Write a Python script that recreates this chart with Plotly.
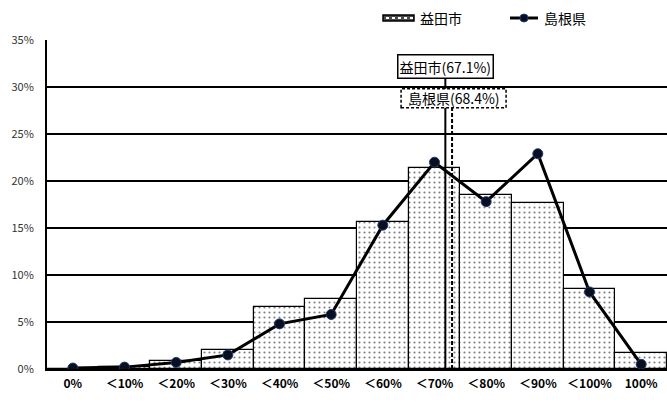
import plotly.graph_objects as go

# Distribution bins and shares (%)
categories = ["0%", "＜10%", "＜20%", "＜30%", "＜40%", "＜50%",
              "＜60%", "＜70%", "＜80%", "＜90%", "＜100%", "100%"]
masuda = [0.0, 0.2, 0.85, 2.0, 6.6, 7.4, 15.6, 21.4, 18.5, 17.7, 8.5, 1.7]
shimane = [0.1, 0.2, 0.7, 1.5, 4.8, 5.8, 15.3, 22.0, 17.8, 22.9, 8.2, 0.5]

# Average rates shown as vertical reference lines
masuda_avg = 67.1
shimane_avg = 68.4
masuda_name = "益田市"
shimane_name = "島根県"

y_ticks = [0, 5, 10, 15, 20, 25, 30, 35]

FONT = "Noto Sans CJK JP"
xs = list(range(len(categories)))

# plot-area geometry in pixels (used for the hand-built legend and boxes)
W, H = 667, 403
ML, MR, MT, MB = 47, 0, 40, 34
PW, PH = W - ML - MR, H - MT - MB
X_RANGE = [-0.5, len(categories) - 0.5]
Y_RANGE = [0, 35]
PX_PER_X = PW / (X_RANGE[1] - X_RANGE[0])
PX_PER_Y = PH / (Y_RANGE[1] - Y_RANGE[0])


def px_x(p):
    return (p - ML) / PW


def px_y(p):
    return (H - MB - p) / PH


def rate_to_x(rate):
    # bin "<70%" (index 7) covers 60–70 %, spanning x = 6.5 .. 7.5
    return 0.5 + rate / 10.0


fig = go.Figure()

fig.add_trace(go.Bar(
    x=xs, y=masuda, name=masuda_name, width=1.0, showlegend=False,
    marker=dict(color="white", line=dict(color="black", width=1.2),
                pattern=dict(shape=".", fgcolor="black", bgcolor="white",
                             size=5, solidity=0.15)),
))

fig.add_trace(go.Scatter(
    x=xs, y=shimane, name=shimane_name, mode="lines+markers", showlegend=False,
    line=dict(color="black", width=3),
    marker=dict(color="#0a0f1e", size=10, line=dict(color="#1f3b7a", width=1)),
))

mx = rate_to_x(masuda_avg)
sx = rate_to_x(shimane_avg)
m_top = 30.9
s_top = 27.8

fig.add_shape(type="line", x0=mx, x1=mx, y0=0, y1=m_top, xref="x", yref="y",
              line=dict(color="black", width=2))
fig.add_shape(type="line", x0=sx, x1=sx, y0=0, y1=s_top, xref="x", yref="y",
              line=dict(color="black", width=2, dash="4px,2px"))

# dashed label box for the prefecture average (sized in pixels, placed in data units)
fig.add_shape(type="rect", xref="x", yref="y",
              x0=sx - 51 / PX_PER_X, x1=sx + 54 / PX_PER_X,
              y0=s_top, y1=s_top + 19 / PX_PER_Y,
              line=dict(color="black", width=1.5, dash="3px,2px"),
              fillcolor="white", layer="above")

fig.add_annotation(x=mx, y=m_top, xref="x", yref="y",
                   text=f"{masuda_name}({masuda_avg}%)",
                   showarrow=False, yanchor="bottom", xanchor="center",
                   font=dict(family=FONT, size=14, color="black"),
                   bgcolor="white", bordercolor="black", borderwidth=1.5,
                   borderpad=1)
fig.add_annotation(x=sx + 1.5 / PX_PER_X, y=s_top + 9.5 / PX_PER_Y,
                   xref="x", yref="y",
                   text=f"{shimane_name}({shimane_avg}%)",
                   showarrow=False, yanchor="middle", xanchor="center",
                   font=dict(family=FONT, size=14, color="black"))

# legend: patterned bar swatch + line-with-marker swatch
fig.add_shape(type="rect", xref="paper", yref="paper",
              x0=px_x(383), x1=px_x(414), y0=px_y(21), y1=px_y(15),
              line=dict(color="black", width=1.5), fillcolor="#4a4a4a")
for i in range(5):
    cx = 386 + i * 6
    fig.add_shape(type="rect", xref="paper", yref="paper",
                  x0=px_x(cx), x1=px_x(cx + 3), y0=px_y(19), y1=px_y(17),
                  line=dict(width=0), fillcolor="white")
fig.add_annotation(x=px_x(418), y=px_y(18), xref="paper", yref="paper",
                   text=masuda_name, showarrow=False, xanchor="left",
                   yanchor="middle", font=dict(family=FONT, size=14, color="black"))
fig.add_shape(type="line", xref="paper", yref="paper",
              x0=px_x(510), x1=px_x(538), y0=px_y(18), y1=px_y(18),
              line=dict(color="black", width=3))
fig.add_shape(type="circle", xref="paper", yref="paper",
              x0=px_x(520), x1=px_x(528), y0=px_y(22), y1=px_y(14),
              line=dict(color="#1f3b7a", width=1), fillcolor="#0a0f1e")
fig.add_annotation(x=px_x(542), y=px_y(18), xref="paper", yref="paper",
                   text=shimane_name, showarrow=False, xanchor="left",
                   yanchor="middle", font=dict(family=FONT, size=14, color="black"))

fig.update_layout(
    width=W, height=H,
    margin=dict(l=ML, r=MR, t=MT, b=MB),
    paper_bgcolor="white", plot_bgcolor="white",
    bargap=0,
    showlegend=False,
    font=dict(family=FONT, color="black"),
)

fig.update_xaxes(
    range=X_RANGE,
    tickmode="array", tickvals=xs, ticktext=[f"<b>{c}</b>" for c in categories],
    tickfont=dict(family=FONT, size=12, color="black"),
    showgrid=False, showline=True, linecolor="black", linewidth=2,
    ticks="", ticklabelstandoff=3,
)
fig.update_yaxes(
    range=Y_RANGE, tickmode="array", tickvals=y_ticks,
    ticktext=[f"{v}%" for v in y_ticks],
    tickfont=dict(family=FONT, size=11, color="#333333"),
    showgrid=True, gridcolor="black", gridwidth=1.5,
    showline=True, linecolor="black", linewidth=2,
    zeroline=True, zerolinecolor="black", zerolinewidth=2,
    ticks="", ticklabelstandoff=9,
)

fig.write_html("out.html")
